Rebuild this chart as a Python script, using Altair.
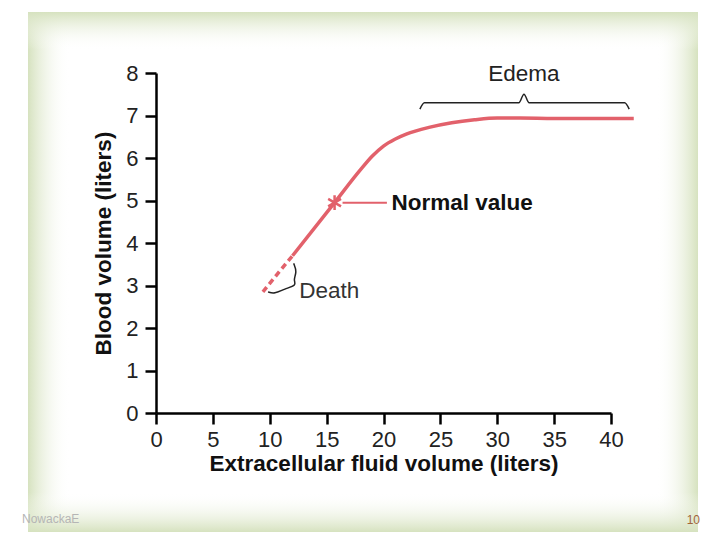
import altair as alt
import pandas as pd

# ---- data ----
ecf_dashed = [9.4, 10.7, 12.0]
blood_dashed = [2.85, 3.28, 3.70]

ecf_solid = [12.0, 15.7, 18.0, 19.0, 20.0, 21.0, 22.0, 24.0, 26.0, 28.0, 30.0, 32.0, 35.0, 42.0]
blood_solid = [3.70, 4.95, 5.73, 6.04, 6.28, 6.44, 6.56, 6.72, 6.83, 6.90, 6.94, 6.94, 6.93, 6.93]

normal_x = [15.7]
normal_y = [4.95]

edema_brace_x = [23.2, 23.6, 31.9, 32.35, 32.8, 41.2, 41.6]
edema_brace_y = [7.15, 7.30, 7.30, 7.50, 7.30, 7.30, 7.15]

death_brace_x = [12.1, 12.4, 12.05, 12.4, 11.3, 10.4, 9.85]
death_brace_y = [3.52, 3.32, 3.12, 3.01, 2.92, 2.80, 2.85]

x_ticks = [0, 5, 10, 15, 20, 25, 30, 35, 40]
y_ticks = [0, 1, 2, 3, 4, 5, 6, 7, 8]

RED = "#e2616b"
FONT = "Liberation Sans"
GREEN = "#d6e2bf"
CLEAR = "rgba(255,255,255,0)"
ANN = 22.5

x_scale = alt.Scale(domain=[0, 40], nice=False, zero=False)
y_scale = alt.Scale(domain=[0, 8], nice=False)

one = pd.DataFrame({"k": [0]})

def strip(x1, x2, y1, y2, grad):
    return alt.Chart(one).mark_rect(fill=grad, strokeWidth=0).encode(
        x=alt.value(x1), x2=alt.value(x2), y=alt.value(y1), y2=alt.value(y2)
    )

def lin(c1, c2, vertical):
    g = {"gradient": "linear", "x1": 0, "y1": 0, "x2": 0 if vertical else 1, "y2": 1 if vertical else 0,
         "stops": [{"offset": 0, "color": c1}, {"offset": 1, "color": c2}]}
    return g

L, R, T, B = -128, 542, -61, 459
bg = alt.Chart(one).mark_rect(fill="white").encode(
    x=alt.value(L), x2=alt.value(R), y=alt.value(T), y2=alt.value(B))
left = strip(L, L + 42, T, B, lin(GREEN, CLEAR, False))
right = strip(R - 42, R, T, B, lin(CLEAR, GREEN, False))
top = strip(L, R, T, T + 38, lin(GREEN, CLEAR, True))
bottom = strip(L, R, B - 40, B, lin(CLEAR, GREEN, True))

footer_l = alt.Chart(one).mark_text(text="NowackaE", font=FONT, fontSize=12, color="#b5b5b5",
                                    align="left", baseline="middle").encode(
    x=alt.value(-134), y=alt.value(446))
footer_r = alt.Chart(one).mark_text(text="10", font=FONT, fontSize=12, color="#a0643a",
                                    align="right", baseline="middle").encode(
    x=alt.value(544), y=alt.value(447))

axes = alt.Chart(pd.DataFrame({"x": [0], "y": [0]})).mark_point(opacity=0).encode(
    x=alt.X("x:Q", scale=x_scale, axis=alt.Axis(
        values=x_ticks, title="Extracellular fluid volume (liters)", grid=False, zindex=1)),
    y=alt.Y("y:Q", scale=y_scale, axis=alt.Axis(
        values=y_ticks, title="Blood volume (liters)", grid=False, zindex=1)),
)

dashed = alt.Chart(pd.DataFrame({"x": ecf_dashed, "y": blood_dashed})).mark_line(
    color=RED, strokeWidth=3.5, strokeDash=[6, 4], clip=False).encode(
    x=alt.X("x:Q", scale=x_scale), y=alt.Y("y:Q", scale=y_scale))

solid = alt.Chart(pd.DataFrame({"x": ecf_solid, "y": blood_solid})).mark_line(
    color=RED, strokeWidth=3.5, interpolate="monotone", clip=False).encode(
    x=alt.X("x:Q", scale=x_scale), y=alt.Y("y:Q", scale=y_scale))

star = alt.Chart(pd.DataFrame({"x": normal_x, "y": normal_y})).mark_point(
    shape="M0,-1L0,1M-0.866,-0.5L0.866,0.5M-0.866,0.5L0.866,-0.5",
    size=220, color=RED, strokeWidth=2.5, filled=False, opacity=1).encode(
    x=alt.X("x:Q", scale=x_scale), y=alt.Y("y:Q", scale=y_scale))

pointer = alt.Chart(pd.DataFrame({"x": [16.4], "x2": [20.3], "y": normal_y})).mark_rule(
    color=RED, strokeWidth=2).encode(
    x=alt.X("x:Q", scale=x_scale), x2="x2:Q", y=alt.Y("y:Q", scale=y_scale))

normal_label = alt.Chart(pd.DataFrame({"x": [20.7], "y": normal_y, "t": ["Normal value"]})).mark_text(
    font=FONT, fontSize=ANN, fontWeight="bold", color="#111111", align="left", baseline="middle").encode(
    x=alt.X("x:Q", scale=x_scale), y=alt.Y("y:Q", scale=y_scale), text="t:N")

edema_brace = alt.Chart(pd.DataFrame({"x": edema_brace_x, "y": edema_brace_y})).mark_line(
    color="#222222", strokeWidth=1.5, interpolate="monotone", clip=False).encode(
    x=alt.X("x:Q", scale=x_scale), y=alt.Y("y:Q", scale=y_scale))

edema_label = alt.Chart(pd.DataFrame({"x": [32.35], "y": [7.97], "t": ["Edema"]})).mark_text(
    font=FONT, fontSize=ANN, color="#222222", align="center", baseline="middle").encode(
    x=alt.X("x:Q", scale=x_scale), y=alt.Y("y:Q", scale=y_scale), text="t:N")

death_brace = alt.Chart(pd.DataFrame({"x": death_brace_x, "y": death_brace_y,
                                      "o": list(range(len(death_brace_x)))})).mark_line(
    color="#222222", strokeWidth=1.5, interpolate="basis").encode(
    x=alt.X("x:Q", scale=x_scale), y=alt.Y("y:Q", scale=y_scale), order="o:Q")

death_label = alt.Chart(pd.DataFrame({"x": [12.6], "y": [2.86], "t": ["Death"]})).mark_text(
    font=FONT, fontSize=ANN, color="#333333", align="left", baseline="middle").encode(
    x=alt.X("x:Q", scale=x_scale), y=alt.Y("y:Q", scale=y_scale), text="t:N")

chart = alt.layer(
    bg, left, right, top, bottom, footer_l, footer_r,
    axes, dashed, solid, star, pointer, normal_label,
    edema_brace, edema_label, death_brace, death_label,
).properties(
    width=455, height=340,
    autosize=alt.AutoSizeParams(type="none"),
    padding={"left": 148, "top": 65, "right": 101, "bottom": 121},
).configure_view(stroke=None).configure(background="white").configure_axis(
    domainColor="black", domainWidth=2.5, tickColor="black", tickWidth=2.5, tickSize=11,
    labelFont=FONT, labelFontSize=22, labelColor="#222222",
    titleFont=FONT, titleFontSize=22.5, titleFontWeight="bold", titleColor="#111111",
).configure_axisX(titlePadding=2, labelPadding=5, labelFlush=False).configure_axisY(
    titlePadding=10, labelPadding=7)

chart.save("out.html", embed_options={"renderer": "svg", "actions": False})
